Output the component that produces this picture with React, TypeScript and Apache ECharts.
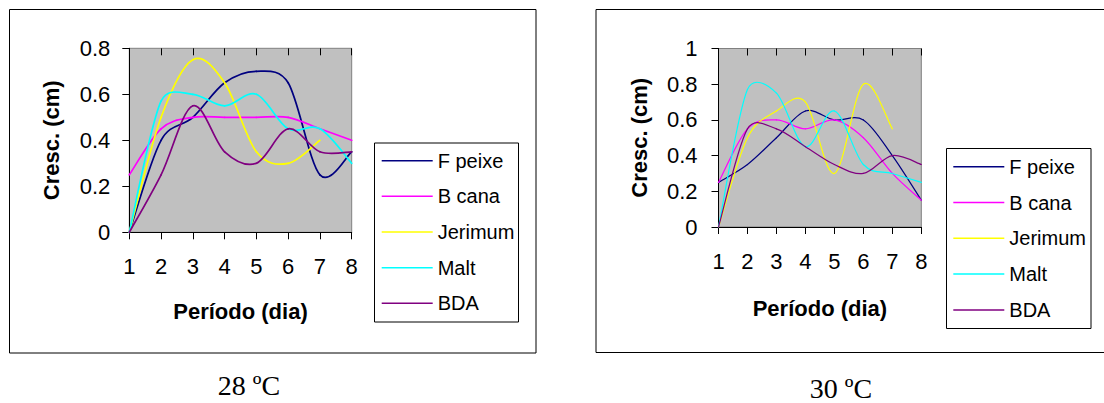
import React, { useEffect, useRef } from "react";
import * as echarts from "echarts";

// Day categories shared by both panels
const days = ["1", "2", "3", "4", "5", "6", "7", "8"];

// Growth (cm) at 28 ºC
const fPeixe28 = [0, 0.4, 0.5, 0.65, 0.7, 0.65, 0.25, 0.35];
const bCana28 = [0.25, 0.45, 0.5, 0.5, 0.5, 0.5, 0.45, 0.4];
const jerimum28 = [0, 0.5, 0.75, 0.65, 0.35, 0.3, 0.4];
const malt28 = [0, 0.57, 0.6, 0.55, 0.6, 0.45, 0.45, 0.3];
const bda28 = [0, 0.25, 0.55, 0.35, 0.3, 0.45, 0.35, 0.35];

// Growth (cm) at 30 ºC
const fPeixe30 = [0.25, 0.35, 0.5, 0.65, 0.6, 0.6, 0.4, 0.15];
const bCana30 = [0.25, 0.55, 0.6, 0.55, 0.6, 0.5, 0.3, 0.15];
const jerimum30 = [0, 0.5, 0.65, 0.7, 0.3, 0.8, 0.55];
const malt30 = [0, 0.77, 0.75, 0.45, 0.65, 0.35, 0.3, 0.25];
const bda30 = [0, 0.55, 0.55, 0.45, 0.35, 0.3, 0.4, 0.35];

const seriesNames = ["F peixe", "B cana", "Jerimum", "Malt", "BDA"];
const seriesColors = ["#000080", "#FF00FF", "#FFFF00", "#00FFFF", "#800080"];

const SANS = '"Liberation Sans", Arial, Helvetica, sans-serif';
const SERIF = '"Liberation Serif", "Times New Roman", serif';

function panelAxes(gridIndex: number, nameGapX: number) {
  return [
    {
      type: "category",
      gridIndex,
      data: days,
      boundaryGap: false,
      axisLine: { show: true, lineStyle: { color: "#000", width: 1 } },
      axisTick: { show: true, length: 7, lineStyle: { color: "#000", width: 1 } },
      axisLabel: { color: "#000", fontSize: 22, fontFamily: SANS, margin: 23 },
      splitLine: { show: false },
      name: "Período (dia)",
      nameLocation: "middle",
      nameGap: nameGapX,
      nameTextStyle: { color: "#000", fontSize: 22, fontWeight: "bold", fontFamily: SANS, lineHeight: 22 },
    },
    {
      // inner half of the crossing tick marks
      type: "category",
      gridIndex,
      data: days,
      boundaryGap: false,
      axisLine: { show: false },
      axisTick: { show: true, inside: true, length: 7, lineStyle: { color: "#000", width: 1 } },
      axisLabel: { show: false },
      splitLine: { show: false },
    },
  ];
}

function panelYAxis(gridIndex: number, max: number, labelMargin: number, nameGapY: number) {
  return {
    type: "value",
    gridIndex,
    min: 0,
    max,
    interval: 0.2,
    axisLine: { show: true, lineStyle: { color: "#000", width: 1 } },
    axisTick: { show: true, length: 7, lineStyle: { color: "#000", width: 1 } },
    axisLabel: { color: "#000", fontSize: 22, fontFamily: SANS, margin: labelMargin },
    splitLine: { show: false },
    name: "Cresc. (cm)",
    nameLocation: "middle",
    nameRotate: 90,
    nameGap: nameGapY,
    nameTextStyle: { color: "#000", fontSize: 22, fontWeight: "bold", fontFamily: SANS, lineHeight: 22 },
  };
}

const dist = (a: number[], b: number[]) => Math.hypot(b[0] - a[0], b[1] - a[1]);

// Smoothed line drawn as cubic Bézier segments through every data point.
// Control points sit at 1/6 of the neighbour chord, shortened to at most
// half of the segment length so short segments do not overshoot.
function smoothLine(gridIndex: number, name: string, values: number[], color: string, width: number) {
  const n = values.length;
  return {
    type: "custom",
    name,
    coordinateSystem: "cartesian2d",
    xAxisIndex: gridIndex * 2,
    yAxisIndex: gridIndex,
    data: values.map((v, i) => [i, v]),
    encode: { x: 0, y: 1 },
    silent: true,
    clip: false,
    itemStyle: { color },
    renderItem: (params: any, api: any) => {
      const i = params.dataIndex;
      if (i >= n - 1) return null;
      const pt = (j: number) => {
        const k = Math.max(0, Math.min(n - 1, j));
        return api.coord([k, values[k]]);
      };
      const p0 = pt(i - 1);
      const p1 = pt(i);
      const p2 = pt(i + 1);
      const p3 = pt(i + 2);
      const d12 = dist(p1, p2);
      const d02 = dist(p0, p2);
      const d13 = dist(p1, p3);
      let f1 = 1 / 6;
      let f2 = 1 / 6;
      if (d02 / 6 >= d12 / 2 && d02 > 0) f1 = d12 / 2 / d02;
      if (d13 / 6 >= d12 / 2 && d13 > 0) f2 = d12 / 2 / d13;
      return {
        type: "bezierCurve",
        shape: {
          x1: p1[0],
          y1: p1[1],
          x2: p2[0],
          y2: p2[1],
          cpx1: p1[0] + (p2[0] - p0[0]) * f1,
          cpy1: p1[1] + (p2[1] - p0[1]) * f1,
          cpx2: p2[0] - (p3[0] - p1[0]) * f2,
          cpy2: p2[1] - (p3[1] - p1[1]) * f2,
        },
        style: { stroke: color, lineWidth: width, fill: "none", lineCap: "round" },
      };
    },
  };
}

function panelSeries(gridIndex: number, values: number[][], width: number) {
  return values.map((data, i) => smoothLine(gridIndex, seriesNames[i], data, seriesColors[i], width));
}

function panelLegend(left: number, top: number, gap: number) {
  return {
    orient: "vertical",
    left,
    top,
    padding: 0,
    data: seriesNames.map((name, i) => ({ name, itemStyle: { color: seriesColors[i] } })),
    icon: "rect",
    itemWidth: 51,
    itemHeight: 1.5,
    itemGap: gap,
    selectedMode: false,
    textStyle: { color: "#000", fontSize: 20, lineHeight: 20, fontFamily: SANS },
  };
}

function frame(x: number, y: number, w: number, h: number) {
  return {
    type: "rect",
    silent: true,
    shape: { x, y, width: w, height: h },
    style: { fill: "none", stroke: "#000", lineWidth: 1 },
  };
}

function caption(text: string, x: number, y: number) {
  return {
    type: "text",
    silent: true,
    x,
    y,
    style: {
      text,
      fill: "#000",
      fontSize: 28,
      fontFamily: SERIF,
      align: "center",
      verticalAlign: "middle",
    },
  };
}

export default function App() {
  const ref = useRef<HTMLDivElement>(null);

  useEffect(() => {
    if (!ref.current) return;
    const chart = echarts.init(ref.current, null, { renderer: "svg" });

    const option = {
      animation: false,
      backgroundColor: "#fff",
      grid: [
        {
          left: 129.3,
          top: 48.3,
          width: 222.4,
          height: 184,
          show: true,
          backgroundColor: "#C0C0C0",
          borderColor: "#808080",
          borderWidth: 1,
        },
        {
          left: 718.5,
          top: 48.5,
          width: 202.8,
          height: 178.5,
          show: true,
          backgroundColor: "#C0C0C0",
          borderColor: "#808080",
          borderWidth: 1,
        },
      ],
      xAxis: [...panelAxes(0, 68), ...panelAxes(1, 70)],
      yAxis: [panelYAxis(0, 0.8, 19, 67), panelYAxis(1, 1, 21, 68.5)],
      legend: [panelLegend(381.7, 150.7, 15.65), panelLegend(953.3, 156.7, 15.8)],
      series: [
        ...panelSeries(0, [fPeixe28, bCana28, jerimum28, malt28, bda28], 1.7),
        ...panelSeries(1, [fPeixe30, bCana30, jerimum30, malt30, bda30], 1.2),
      ],
      graphic: [
        frame(9.5, 9.5, 526.5, 343.5),
        frame(596, 9.5, 530, 343),
        frame(374.5, 143, 144, 179),
        frame(946.5, 148.5, 144.5, 180),
        caption("28 ºC", 249, 385),
        caption("30 ºC", 841, 388),
      ],
    };

    chart.setOption(option as any);
    return () => chart.dispose();
  }, []);

  return (
    <div
      ref={ref}
      style={{ position: "absolute", left: 0, top: 0, width: 1104, height: 403, background: "#fff" }}
    />
  );
}
